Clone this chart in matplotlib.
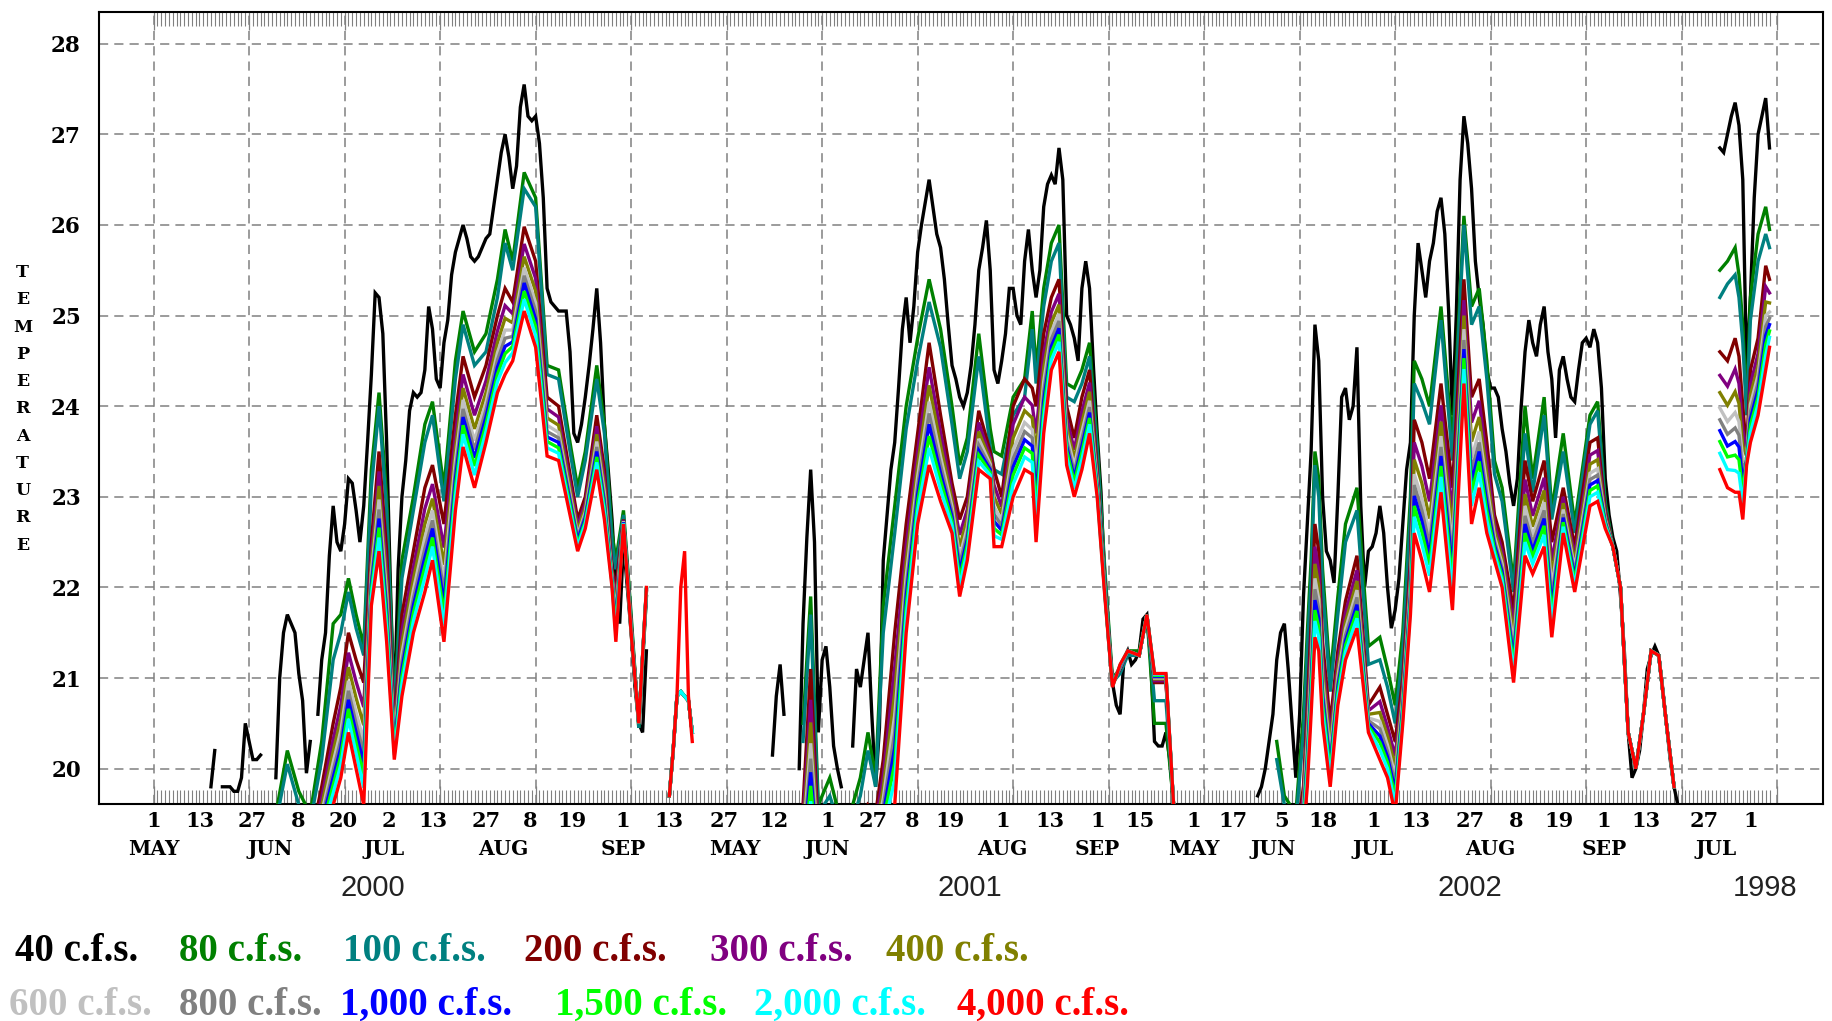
import matplotlib
matplotlib.use("Agg")
import matplotlib.pyplot as plt
import matplotlib.transforms as mtransforms

# ---------------- axis text data ----------------
day_tick_pos = [0, 12.1, 25.9, 37.8, 49.7, 61.5, 73.2, 87.0, 98.5, 109.5, 122.9, 135.0, 149.3,
                162.3, 176.4, 188.3, 198.6, 208.5, 222.2, 234.6, 247.1, 258.3, 272.3, 282.5,
                295.2, 306.2, 319.3, 330.5, 344.5, 356.7, 367.9, 379.7, 390.6, 405.8, 418.0]
day_tick_labels = ["1", "13", "27", "8", "20", "2", "13", "27", "8", "19", "1", "13", "27",
                   "12", "1", "27", "8", "19", "1", "13", "1", "15", "1", "17",
                   "5", "18", "1", "13", "27", "8", "19", "1", "13", "27", "1"]
month_pos = [0, 30.5, 60.4, 91.6, 123, 152.2, 176.4, 222.2, 247.1, 272.3, 293, 319.3, 350, 379.7, 409]
month_labels = ["MAY", "JUN", "JUL", "AUG", "SEP", "MAY", "JUN", "AUG", "SEP", "MAY", "JUN",
                "JUL", "AUG", "SEP", "JUL"]
year_pos = [57.4, 213.7, 344.5, 421.8]
year_labels = ["2000", "2001", "2002", "1998"]

# ---------------- 40 c.f.s. (daily, contiguous pieces) ----------------
starts_40 = [15, 18, 32, 43, 162, 169, 183, 289, 410]
cfs40 = [
    [19.8, 20.2],
    [19.8, 19.8, 19.8, 19.75, 19.75, 19.9, 20.5, 20.3, 20.1, 20.1, 20.15],
    [19.9, 21.0, 21.5, 21.7, 21.6, 21.5, 21.05, 20.75, 19.95, 20.3],
    [20.6, 21.2, 21.5, 22.35, 22.9, 22.5, 22.4, 22.7, 23.2, 23.15, 22.85, 22.5, 22.9, 23.6, 24.35,
     25.25, 25.2, 24.8, 23.6, 22.0, 20.6, 22.2, 23.0, 23.4, 23.95, 24.15, 24.1, 24.15, 24.4, 25.1,
     24.85, 24.3, 24.2, 24.7, 24.95, 25.45, 25.7, 25.85, 26.0, 25.85, 25.65, 25.6, 25.65, 25.75,
     25.85, 25.9, 26.2, 26.5, 26.8, 27.0, 26.75, 26.4, 26.65, 27.3, 27.55, 27.2, 27.15, 27.2, 26.9,
     26.3, 25.3, 25.15, 25.1, 25.05, 25.05, 25.05, 24.6, 23.7, 23.6, 23.8, 24.1, 24.45, 24.85, 25.3,
     24.7, 23.8, 23.3, 22.75, 22.0, 21.6, 22.5, 22.0, 21.5, 20.9, 20.5, 20.4, 21.3],
    [20.15, 20.8, 21.15, 20.6],
    [20.0, 21.6, 22.55, 23.3, 22.5, 20.4, 21.2, 21.35, 20.9, 20.25, 20.0, 19.8],
    [20.25, 21.1, 20.9, 21.2, 21.5, 20.6, 19.8, 20.45, 22.3, 22.8, 23.3, 23.6, 24.2, 24.85, 25.2,
     24.7, 25.1, 25.7, 26.0, 26.25, 26.5, 26.2, 25.9, 25.75, 25.4, 24.9, 24.45, 24.3, 24.1, 24.0,
     24.15, 24.45, 24.9, 25.5, 25.75, 26.05, 25.5, 24.4, 24.25, 24.5, 24.8, 25.3, 25.3, 25.0, 24.9,
     25.6, 25.95, 25.5, 25.2, 25.5, 26.2, 26.45, 26.55, 26.45, 26.85, 26.5, 25.0, 24.9, 24.75, 24.5,
     25.3, 25.6, 25.3, 24.45, 23.7, 23.05, 22.0, 21.4, 20.95, 20.7, 20.6, 21.2, 21.3, 21.15, 21.2,
     21.3, 21.65, 21.7, 21.2, 20.3, 20.25, 20.25, 20.4, 20.1, 19.6],
    [19.7, 19.8, 20.0, 20.3, 20.6, 21.2, 21.5, 21.6, 21.1, 20.5, 19.9, 20.6, 21.9, 22.7, 23.5, 24.9,
     24.5, 23.0, 22.4, 22.3, 22.05, 23.0, 24.1, 24.2, 23.85, 24.0, 24.65, 22.9, 22.0, 22.4, 22.45,
     22.6, 22.9, 22.6, 22.0, 21.55, 21.75, 22.1, 22.7, 23.3, 23.6, 25.0, 25.8, 25.5, 25.2, 25.6, 25.8,
     26.15, 26.3, 25.9, 25.05, 23.9, 25.0, 26.5, 27.2, 26.9, 26.4, 25.6, 25.2, 24.9, 24.4, 24.2, 24.2,
     24.1, 23.75, 23.5, 23.15, 22.9, 23.2, 24.0, 24.6, 24.95, 24.7, 24.55, 24.9, 25.1, 24.6, 24.3,
     23.65, 24.4, 24.55, 24.3, 24.1, 24.05, 24.4, 24.7, 24.75, 24.65, 24.85, 24.7, 24.2, 23.2, 22.8,
     22.55, 22.4, 21.9, 21.3, 20.4, 19.9, 20.0, 20.2, 20.6, 21.1, 21.25, 21.35, 21.25, 20.9, 20.5,
     20.1, 19.8, 19.6],
    [26.85, 26.8, 27.0, 27.2, 27.35, 27.1, 26.5, 24.4, 25.2, 26.3, 27.0, 27.2, 27.4, 26.85],
]

# ---------------- days shared by the other flows ----------------
days_2000 = [32, 35, 38, 41, 44, 47, 49, 51, 53, 55, 57, 59, 61, 63, 65, 68, 71, 73, 76, 79, 81,
             84, 87, 90, 92, 94, 97, 100, 103, 106, 109, 111, 113, 116, 118, 120, 121, 123, 125,
             127, 129]
days_2000b = [135, 136, 137, 138, 139, 140, 141]
days_2001 = [170, 172, 174, 177, 180, 183, 185, 187, 189, 191, 194, 197, 200, 203, 206, 209, 211,
             213, 216, 219, 220, 222, 225, 228, 230, 231, 233, 235, 237, 239, 241, 243, 245, 247,
             249, 251, 253, 255, 258, 260, 262, 265, 267]
days_2002 = [294, 296, 299, 301, 302, 303, 304, 305, 306, 308, 310, 312, 315, 318, 321, 323, 325,
             327, 329, 330, 332, 334, 337, 340, 343, 345, 347, 349, 351, 353, 356, 359, 361, 364,
             366, 369, 372, 376, 378, 380, 382, 384, 386, 388, 390, 392, 394, 396, 398]
days_1998 = [410, 412, 414, 415, 416, 417, 418, 420, 422, 423]

late_2000 = [19.7, 20.2, 20.8, 20.85, 20.8, 20.75, 20.4]
tail_2002 = [20.4, 20.0, 20.6, 21.3, 21.25, 20.5, 19.8]

cfs80 = [
    [19.5, 20.2, 19.75, 19.5, 20.3, 21.6, 21.7, 22.1, 21.7, 21.35, 23.3, 24.15, 23.0, 20.7, 22.3,
     23.0, 23.8, 24.05, 23.1, 24.5, 25.05, 24.6, 24.8, 25.4, 25.95, 25.6, 26.58, 26.3, 24.45, 24.4,
     23.6, 23.1, 23.5, 24.45, 23.8, 22.6, 22.3, 22.85, 21.7, 20.45, 21.9],
    late_2000,
    [20.5, 21.9, 19.6, 19.9, 19.4, 19.6, 19.9, 20.4, 19.9, 21.8, 22.9, 24.0, 24.75, 25.4, 24.85,
     24.0, 23.35, 23.65, 24.8, 23.75, 23.5, 23.45, 24.1, 24.3, 25.05, 24.4, 25.3, 25.8, 26.0, 24.25,
     24.2, 24.4, 24.7, 23.6, 22.2, 21.0, 21.1, 21.3, 21.3, 21.7, 20.5, 20.5, 19.6],
    [20.3, 19.7, 19.5, 20.6, 21.5, 22.3, 23.5, 23.2, 22.2, 21.0, 21.9, 22.7, 23.1, 21.35, 21.45,
     21.1, 20.7, 21.5, 23.0, 24.5, 24.3, 24.0, 25.1, 23.6, 26.1, 25.1, 25.3, 24.5, 23.4, 23.1, 22.05,
     24.0, 23.2, 24.1, 22.85, 23.7, 22.7, 23.9, 24.05, 22.95, 22.45, 22.0] + tail_2002,
    [25.5, 25.6, 25.75, 25.45, 24.9, 24.0, 25.2, 25.9, 26.2, 25.95],
]
cfs100 = [
    [19.4, 20.05, 19.6, 19.4, 20.1, 21.2, 21.5, 21.95, 21.55, 21.25, 23.1, 24.0, 22.85, 20.6, 22.1,
     22.85, 23.6, 23.9, 22.95, 24.3, 24.9, 24.45, 24.6, 25.2, 25.8, 25.5, 26.4, 26.2, 24.35, 24.3,
     23.5, 23.0, 23.4, 24.3, 23.7, 22.5, 22.2, 22.8, 21.65, 20.45, 21.9],
    late_2000,
    [20.3, 21.7, 19.5, 19.7, 19.3, 19.45, 19.7, 20.2, 19.8, 21.5, 22.6, 23.75, 24.5, 25.15, 24.65,
     23.8, 23.2, 23.5, 24.55, 23.55, 23.3, 23.25, 23.9, 24.1, 24.85, 24.25, 25.1, 25.6, 25.8, 24.1,
     24.05, 24.25, 24.55, 23.5, 22.15, 20.95, 21.05, 21.25, 21.25, 21.7, 20.75, 20.75, 19.6],
    [20.1, 19.6, 19.4, 20.4, 21.3, 22.1, 23.35, 23.0, 22.0, 20.85, 21.7, 22.5, 22.85, 21.15, 21.2,
     20.9, 20.5, 21.3, 22.8, 24.25, 24.05, 23.8, 24.95, 23.4, 26.0, 24.9, 25.1, 24.3, 23.25, 22.95,
     21.95, 23.7, 23.05, 23.9, 22.75, 23.5, 22.6, 23.8, 23.95, 22.9, 22.45, 22.0] + tail_2002,
    [25.2, 25.35, 25.45, 25.2, 24.7, 23.9, 24.95, 25.6, 25.9, 25.75],
]
cfs200 = [
    [19.2, 19.5, 19.3, 19.2, 19.8, 20.5, 20.9, 21.5, 21.2, 20.95, 22.5, 23.5, 22.4, 20.45, 21.7,
     22.4, 23.1, 23.35, 22.7, 23.9, 24.55, 24.1, 24.45, 25.0, 25.3, 25.15, 25.98, 25.6, 24.1, 24.0,
     23.25, 22.75, 23.0, 23.9, 23.3, 22.2, 22.0, 22.75, 21.6, 20.5, 21.95],
    late_2000,
    [19.6, 21.1, 19.3, 19.3, 19.2, 19.2, 19.3, 19.6, 19.5, 20.1, 21.5, 22.7, 23.7, 24.7, 23.9, 23.15,
     22.75, 23.0, 23.95, 23.5, 23.3, 23.0, 24.0, 24.3, 24.2, 24.0, 24.8, 25.2, 25.4, 24.0, 23.65,
     24.1, 24.4, 23.3, 22.05, 20.95, 21.1, 21.3, 21.25, 21.7, 20.95, 20.95, 19.6],
    [19.3, 19.2, 19.2, 19.8, 20.7, 21.6, 22.7, 22.4, 21.4, 20.5, 21.3, 21.85, 22.35, 20.7, 20.9,
     20.6, 20.3, 21.0, 22.3, 23.85, 23.6, 23.2, 24.25, 23.1, 25.4, 24.1, 24.3, 23.6, 22.8, 22.5,
     21.75, 23.4, 22.95, 23.4, 22.5, 23.1, 22.45, 23.6, 23.65, 22.85, 22.45, 22.0] + tail_2002,
    [24.6, 24.5, 24.75, 24.55, 24.0, 23.5, 24.4, 24.75, 25.55, 25.4],
]
cfs300 = [
    [19.12, 19.4, 19.22, 19.12, 19.68, 20.32, 20.7, 21.28, 20.96, 20.68, 22.36, 23.28, 22.2, 20.38,
     21.52, 22.22, 22.87, 23.14, 22.44, 23.69, 24.35, 23.9, 24.28, 24.83, 25.11, 25.02, 25.79, 25.41,
     23.97, 23.88, 23.16, 22.68, 22.93, 23.78, 23.19, 22.16, 21.88, 22.74, 21.58, 20.5, 21.96],
    late_2000,
    [19.44, 20.76, 19.2, 19.2, 19.12, 19.12, 19.22, 19.48, 19.4, 19.92, 21.12, 22.46, 23.5, 24.43,
     23.71, 23.04, 22.58, 22.86, 23.82, 23.44, 23.13, 22.89, 23.8, 24.1, 24.01, 23.7, 24.58, 25.04,
     25.24, 23.87, 23.52, 23.94, 24.26, 23.24, 22.02, 20.94, 21.11, 21.3, 21.25, 21.7, 20.97, 20.97,
     19.6],
    [19.2, 19.12, 19.12, 19.7, 20.52, 21.4, 22.45, 22.18, 21.22, 20.36, 21.18, 21.72, 22.19, 20.64,
     20.74, 20.46, 20.14, 20.9, 22.18, 23.6, 23.34, 22.95, 24.01, 22.83, 25.17, 23.82, 24.06, 23.4,
     22.7, 22.4, 21.59, 23.19, 22.79, 23.21, 22.29, 23.0, 22.35, 23.46, 23.51, 22.81, 22.45,
     22.0] + tail_2002,
    [24.34, 24.22, 24.41, 24.25, 23.75, 23.47, 24.24, 24.58, 25.32, 25.25],
]
cfs400 = [
    [19.06, 19.33, 19.16, 19.06, 19.59, 20.19, 20.55, 21.12, 20.78, 20.48, 22.26, 23.12, 22.05,
     20.33, 21.39, 22.09, 22.7, 22.98, 22.25, 23.53, 24.2, 23.75, 24.15, 24.7, 24.97, 24.92, 25.65,
     25.27, 23.87, 23.79, 23.09, 22.63, 22.88, 23.69, 23.11, 22.13, 21.79, 22.73, 21.57, 20.5, 21.97],
    late_2000,
    [19.32, 20.51, 19.13, 19.13, 19.06, 19.06, 19.16, 19.39, 19.33, 19.79, 20.84, 22.28, 23.35,
     24.23, 23.57, 22.96, 22.45, 22.76, 23.72, 23.4, 23.0, 22.81, 23.65, 23.95, 23.87, 23.48, 24.42,
     24.92, 25.12, 23.77, 23.42, 23.82, 24.16, 23.2, 22.0, 20.93, 21.12, 21.3, 21.25, 21.7, 20.99,
     20.99, 19.6],
    [19.13, 19.06, 19.06, 19.63, 20.39, 21.25, 22.26, 22.02, 21.09, 20.26, 21.09, 21.62, 22.07, 20.6,
     20.62, 20.36, 20.02, 20.83, 22.09, 23.41, 23.15, 22.76, 23.83, 22.63, 25.0, 23.61, 23.88, 23.25,
     22.63, 22.33, 21.47, 23.03, 22.67, 23.07, 22.13, 22.93, 22.28, 23.36, 23.41, 22.78, 22.45,
     22.0] + tail_2002,
    [24.15, 24.01, 24.16, 24.03, 23.56, 23.45, 24.12, 24.45, 25.15, 25.14],
]
cfs600 = [
    [19.01, 19.26, 19.11, 19.01, 19.51, 20.07, 20.42, 20.97, 20.62, 20.3, 22.16, 22.97, 21.92, 20.28,
     21.27, 21.97, 22.55, 22.85, 22.08, 23.4, 24.07, 23.62, 24.04, 24.59, 24.84, 24.84, 25.53, 25.14,
     23.79, 23.71, 23.03, 22.58, 22.83, 23.61, 23.04, 22.1, 21.71, 22.73, 21.55, 20.5, 21.97],
    late_2000,
    [19.22, 20.28, 19.06, 19.06, 19.01, 19.01, 19.11, 19.31, 19.26, 19.67, 20.59, 22.12, 23.22,
     24.05, 23.44, 22.89, 22.34, 22.66, 23.64, 23.36, 22.89, 22.74, 23.52, 23.82, 23.74, 23.28, 24.27,
     24.82, 25.02, 23.69, 23.34, 23.72, 24.06, 23.16, 21.98, 20.93, 21.12, 21.3, 21.25, 21.7, 21.0,
     21.0, 19.6],
    [19.06, 19.01, 19.01, 19.56, 20.27, 21.12, 22.1, 21.87, 20.97, 20.16, 21.01, 21.54, 21.97, 20.56,
     20.52, 20.26, 19.92, 20.76, 22.01, 23.25, 22.98, 22.6, 23.67, 22.45, 24.85, 23.43, 23.72, 23.12,
     22.56, 22.26, 21.37, 22.9, 22.57, 22.94, 22.0, 22.86, 22.21, 23.26, 23.31, 22.75, 22.45,
     22.0] + tail_2002,
    [23.98, 23.83, 23.93, 23.83, 23.4, 23.43, 24.02, 24.34, 25.0, 25.04],
]
cfs800 = [
    [18.97, 19.21, 19.07, 18.97, 19.45, 19.98, 20.32, 20.86, 20.5, 20.17, 22.09, 22.86, 21.82, 20.25,
     21.18, 21.88, 22.43, 22.74, 21.95, 23.29, 23.97, 23.52, 23.96, 24.51, 24.75, 24.77, 25.44, 25.05,
     23.72, 23.65, 22.99, 22.55, 22.8, 23.55, 22.98, 22.08, 21.65, 22.72, 21.54, 20.5, 21.98],
    late_2000,
    [19.14, 20.11, 19.01, 19.01, 18.97, 18.97, 19.07, 19.25, 19.21, 19.58, 20.4, 22.0, 23.12, 23.92,
     23.35, 22.83, 22.26, 22.59, 23.57, 23.33, 22.81, 22.68, 23.42, 23.72, 23.65, 23.13, 24.16, 24.74,
     24.94, 23.62, 23.27, 23.64, 23.99, 23.13, 21.96, 20.92, 21.13, 21.3, 21.25, 21.7, 21.01, 21.01,
     19.6],
    [19.01, 18.97, 18.97, 19.51, 20.18, 21.02, 21.98, 21.76, 20.88, 20.09, 20.95, 21.47, 21.89, 20.53,
     20.44, 20.19, 19.84, 20.71, 21.95, 23.13, 22.85, 22.48, 23.55, 22.32, 24.73, 23.29, 23.6, 23.02,
     22.51, 22.21, 21.29, 22.79, 22.49, 22.85, 21.89, 22.81, 22.16, 23.19, 23.24, 22.73, 22.45,
     22.0] + tail_2002,
    [23.85, 23.69, 23.76, 23.68, 23.28, 23.41, 23.94, 24.26, 24.88, 24.97],
]
cfs1000 = [
    [18.93, 19.17, 19.03, 18.93, 19.4, 19.9, 20.23, 20.76, 20.4, 20.05, 22.03, 22.76, 21.73, 20.22,
     21.1, 21.8, 22.33, 22.65, 21.83, 23.2, 23.88, 23.43, 23.88, 24.43, 24.66, 24.71, 25.36, 24.96,
     23.66, 23.6, 22.95, 22.52, 22.77, 23.5, 22.93, 22.07, 21.6, 22.72, 21.53, 20.5, 21.98],
    late_2000,
    [19.06, 19.96, 18.97, 18.97, 18.93, 18.93, 19.03, 19.2, 19.17, 19.5, 20.23, 21.9, 23.03, 23.8,
     23.26, 22.78, 22.18, 22.53, 23.51, 23.3, 22.73, 22.63, 23.33, 23.63, 23.56, 23.0, 24.06, 24.66,
     24.86, 23.56, 23.21, 23.56, 23.93, 23.1, 21.95, 20.92, 21.13, 21.3, 21.25, 21.7, 21.02, 21.02,
     19.6],
    [18.97, 18.93, 18.93, 19.47, 20.1, 20.93, 21.86, 21.66, 20.8, 20.03, 20.9, 21.41, 21.81, 20.5,
     20.36, 20.13, 19.76, 20.67, 21.9, 23.01, 22.73, 22.36, 23.45, 22.2, 24.63, 23.16, 23.5, 22.93,
     22.47, 22.17, 21.21, 22.7, 22.41, 22.76, 21.8, 22.77, 22.12, 23.13, 23.18, 22.72, 22.45,
     22.0] + tail_2002,
    [23.73, 23.56, 23.61, 23.55, 23.16, 23.4, 23.86, 24.18, 24.78, 24.9],
]
cfs1500 = [
    [18.9, 19.12, 19.0, 18.9, 19.34, 19.82, 20.14, 20.66, 20.29, 19.92, 21.97, 22.66, 21.64, 20.18,
     21.02, 21.72, 22.23, 22.55, 21.71, 23.1, 23.79, 23.34, 23.8, 24.35, 24.58, 24.66, 25.27, 24.88,
     23.61, 23.54, 22.91, 22.48, 22.73, 23.44, 22.88, 22.05, 21.54, 22.71, 21.52, 20.5, 21.99],
    late_2000,
    [18.99, 19.81, 18.92, 18.92, 18.9, 18.9, 19.0, 19.14, 19.12, 19.42, 20.06, 21.79, 22.94, 23.67,
     23.18, 22.73, 22.1, 22.47, 23.46, 23.27, 22.65, 22.58, 23.24, 23.54, 23.48, 22.86, 23.96, 24.59,
     24.79, 23.51, 23.16, 23.49, 23.87, 23.07, 21.94, 20.91, 21.14, 21.3, 21.25, 21.7, 21.03, 21.03,
     19.6],
    [18.92, 18.9, 18.9, 19.42, 20.02, 20.84, 21.75, 21.56, 20.72, 19.97, 20.84, 21.36, 21.74, 20.47,
     20.29, 20.07, 19.69, 20.62, 21.84, 22.9, 22.61, 22.25, 23.34, 22.07, 24.53, 23.04, 23.39, 22.84,
     22.42, 22.12, 21.14, 22.6, 22.34, 22.68, 21.7, 22.72, 22.07, 23.07, 23.12, 22.7, 22.45,
     22.0] + tail_2002,
    [23.61, 23.44, 23.46, 23.41, 23.05, 23.39, 23.79, 24.1, 24.68, 24.83],
]
cfs2000 = [
    [18.86, 19.07, 18.96, 18.86, 19.28, 19.73, 20.04, 20.55, 20.17, 19.79, 21.9, 22.55, 21.54, 20.15,
     20.93, 21.63, 22.11, 22.45, 21.58, 23.0, 23.69, 23.24, 23.72, 24.27, 24.48, 24.59, 25.18, 24.78,
     23.54, 23.48, 22.86, 22.45, 22.7, 23.38, 22.83, 22.03, 21.48, 22.71, 21.51, 20.5, 21.99],
    late_2000,
    [18.91, 19.64, 18.87, 18.87, 18.86, 18.86, 18.96, 19.08, 19.07, 19.33, 19.87, 21.67, 22.84, 23.54,
     23.08, 22.68, 22.02, 22.4, 23.39, 23.24, 22.57, 22.53, 23.14, 23.44, 23.38, 22.71, 23.85, 24.51,
     24.71, 23.44, 23.09, 23.41, 23.8, 23.04, 21.92, 20.91, 21.14, 21.3, 21.25, 21.7, 21.04, 21.04,
     19.6],
    [18.87, 18.86, 18.86, 19.37, 19.93, 20.74, 21.63, 21.45, 20.63, 19.9, 20.78, 21.29, 21.66, 20.44,
     20.21, 20.0, 19.61, 20.57, 21.78, 22.78, 22.48, 22.13, 23.22, 21.94, 24.41, 22.9, 23.27, 22.74,
     22.37, 22.07, 21.06, 22.5, 22.26, 22.58, 21.6, 22.67, 22.02, 23.0, 23.05, 22.68, 22.45,
     22.0] + tail_2002,
    [23.48, 23.3, 23.29, 23.26, 22.93, 23.37, 23.71, 24.02, 24.56, 24.76],
]
cfs4000 = [
    [18.8, 19.0, 18.9, 18.8, 19.2, 19.6, 19.9, 20.4, 20.0, 19.6, 21.8, 22.4, 21.4, 20.1, 20.8, 21.5,
     21.95, 22.3, 21.4, 22.85, 23.55, 23.1, 23.6, 24.15, 24.35, 24.5, 25.05, 24.65, 23.45, 23.4, 22.8,
     22.4, 22.65, 23.3, 22.75, 22.0, 21.4, 22.7, 21.5, 20.5, 22.0],
    [19.7, 20.2, 20.8, 22.0, 22.4, 20.8, 20.3],
    [18.8, 19.4, 18.8, 18.8, 18.8, 18.8, 18.9, 19.0, 19.0, 19.2, 19.6, 21.5, 22.7, 23.35, 22.95, 22.6,
     21.9, 22.3, 23.3, 23.2, 22.45, 22.45, 23.0, 23.3, 23.25, 22.5, 23.7, 24.4, 24.6, 23.35, 23.0,
     23.3, 23.7, 23.0, 21.9, 20.9, 21.15, 21.3, 21.25, 21.7, 21.05, 21.05, 19.6],
    [18.8, 18.8, 18.8, 19.3, 19.8, 20.6, 21.45, 21.3, 20.5, 19.8, 20.7, 21.2, 21.55, 20.4, 20.1, 19.9,
     19.5, 20.5, 21.7, 22.6, 22.3, 21.95, 23.05, 21.75, 24.25, 22.7, 23.1, 22.6, 22.3, 22.0, 20.95,
     22.35, 22.15, 22.45, 21.45, 22.6, 21.95, 22.9, 22.95, 22.65, 22.45, 22.0] + tail_2002,
    [23.3, 23.1, 23.05, 23.05, 22.75, 23.35, 23.6, 23.9, 24.4, 24.65],
]

legend_labels = ["40 c.f.s.", "80 c.f.s.", "100 c.f.s.", "200 c.f.s.", "300 c.f.s.", "400 c.f.s.",
                 "600 c.f.s.", "800 c.f.s.", "1,000 c.f.s.", "1,500 c.f.s.", "2,000 c.f.s.",
                 "4,000 c.f.s."]
colors = ["#000000", "#008000", "#008080", "#800000", "#800080", "#808000",
          "#c0c0c0", "#808080", "#0000ff", "#00ff00", "#00ffff", "#ff0000"]

# ---------------- figure ----------------
W, H = 1832, 1021
fig = plt.figure(figsize=(W / 100, H / 100), dpi=100)
ax = fig.add_axes([99 / W, 1 - 804 / H, (1823 - 99) / W, (804 - 12) / H])
ax.set_xlim(-14.3, 437.0)
ax.set_ylim(19.61, 28.35)

LW = 2.4
for st, vals in zip(starts_40, cfs40):
    ax.plot(range(st, st + len(vals)), vals, color=colors[0], lw=LW, solid_joinstyle="miter",
            zorder=3)
band_days = [days_2000, days_2000b, days_2001, days_2002, days_1998]
others = [cfs80, cfs100, cfs200, cfs300, cfs400, cfs600, cfs800, cfs1000, cfs1500, cfs2000, cfs4000]
for k, series in enumerate(others):
    for dd, vals in zip(band_days, series):
        n = min(len(dd), len(vals))
        ax.plot(dd[:n], vals[:n], color=colors[k + 1], lw=LW, solid_joinstyle="miter",
                zorder=3 + k + 1)

ax.set_yticks(range(20, 29))
ax.set_yticklabels([str(v) for v in range(20, 29)], fontfamily="DejaVu Serif",
                   fontweight="bold", fontsize=15.5)
ax.set_xticks(range(0, 426, 25))
ax.set_xticks(range(0, 424), minor=True)
ax.tick_params(axis="y", length=0, pad=13)
ax.tick_params(axis="x", which="major", direction="in", length=13, width=0.9,
               color="#808080", top=True, bottom=True, labelbottom=False)
ax.tick_params(axis="x", which="minor", direction="in", length=10, width=0.8,
               color="#808080", top=True, bottom=True)
ax.grid(True, which="major", color="#808080", linestyle=(0, (6, 4)), linewidth=1.1)
ax.set_axisbelow(True)
for sp in ax.spines.values():
    sp.set_linewidth(1.5)
    sp.set_color("black")

trans = mtransforms.blended_transform_factory(ax.transData, fig.transFigure)
for d, lab in zip(day_tick_pos, day_tick_labels):
    ax.text(d, 1 - 821 / H, lab, transform=trans, ha="center", va="center",
            fontfamily="DejaVu Serif", fontweight="bold", fontsize=15, clip_on=False)
for d, lab in zip(month_pos, month_labels):
    ax.text(d, 1 - 849 / H, lab, transform=trans, ha="center", va="center",
            fontfamily="DejaVu Serif", fontweight="bold", fontsize=14.5, clip_on=False)
for d, lab in zip(year_pos, year_labels):
    ax.text(d, 1 - 888 / H, lab, transform=trans, ha="center", va="center",
            fontfamily="Liberation Sans", fontsize=21, color="#222222", clip_on=False)

for i, ch in enumerate("TEMPERATURE"):
    fig.text(22.5 / W, 1 - (272.7 + i * 27.25) / H, ch, ha="center", va="center",
             fontfamily="DejaVu Serif", fontweight="bold", fontsize=12.5)

leg_x = [15, 179, 343, 524, 710, 886, 9, 179, 340, 555, 754, 957]
leg_y = [951] * 6 + [1005] * 6
for lab, col, x, y in zip(legend_labels, colors, leg_x, leg_y):
    fig.text(x / W, 1 - y / H, lab, ha="left", va="center", color=col,
             fontfamily="Liberation Serif", fontweight="bold", fontsize=28)

fig.savefig("out.png", dpi=100)
